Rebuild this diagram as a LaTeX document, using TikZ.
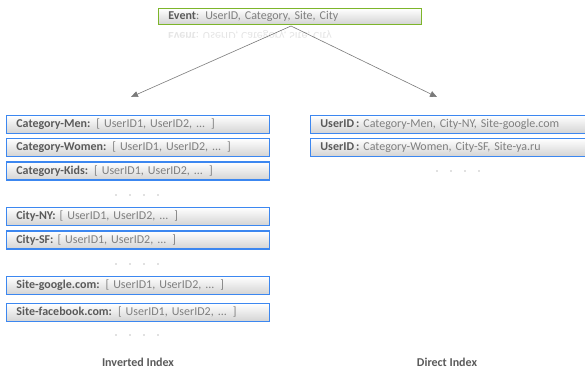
\documentclass[tikz,border=0pt]{standalone}
\usepackage{fontspec}
\setmainfont{Carlito}
\usetikzlibrary{arrows.meta}
\definecolor{boxblue}{HTML}{3C87F0}
\definecolor{evgreen}{HTML}{7DB52A}
\definecolor{keytext}{HTML}{5A5A5A}
\definecolor{valtext}{HTML}{7F7F7F}
\definecolor{arrowgray}{HTML}{7A7A7A}
\tikzset{
  entry/.style={draw=boxblue, line width=1.8pt, top color=white, bottom color=black!17,
    anchor=north west, minimum height=18pt, inner xsep=10pt, inner ysep=0pt,
    align=left, font=\fontsize{12}{14}\selectfont, text=valtext},
  leftentry/.style={entry, text width=243pt},
  rightentry/.style={entry, text width=256pt},
  event/.style={entry, draw=evgreen, text width=243pt, minimum height=16pt},
  link/.style={draw=arrowgray, line width=0.6pt, -{Triangle[length=7pt,width=6pt]}},
  dot/.style={fill=valtext, circle, inner sep=0pt, minimum size=1.4pt},
  caption/.style={font=\fontsize{12}{14}\selectfont\bfseries, text=keytext}
}
\newcommand{\keyname}[1]{\textcolor{keytext}{\textbf{#1}}}
\begin{document}
\begin{tikzpicture}[x=1pt,y=-1pt]
\useasboundingbox (0,0) rectangle (585,368);

% event record and its faded reflection
\node[event] (ev) at (157.5,7.5) {\keyname{Event}: UserID, Category, Site, City};
\begin{scope}
  \clip (157,26) rectangle (422,37);
  \node[yscale=-1, anchor=west, inner sep=0pt, font=\fontsize{12}{14}\selectfont, text=black!10]
    (evmirror) at (168,35.5) {\textbf{Event}: UserID, Category, Site, City};
\end{scope}

% arrows to the two indexes
\coordinate (src) at (291,26);
\coordinate (invtop) at (131,97);
\coordinate (dirtop) at (437,97);
\draw[link] (src) -- (invtop);
\draw[link] (src) -- (dirtop);

% inverted index
\node[leftentry] (cmen)   at (5.5,114.5) {\keyname{Category-Men:} [ UserID1, UserID2, ... ]};
\node[leftentry] (cwomen) at (5.5,137.5) {\keyname{Category-Women:} [ UserID1, UserID2, ... ]};
\node[leftentry] (ckids)  at (5.5,161)   {\keyname{Category-Kids:} [ UserID1, UserID2, ... ]};
\foreach \x [count=\i] in {116,130,144,158} \node[dot] (da\i) at (\x,195) {};
\node[leftentry] (cny)    at (5.5,206.5) {\keyname{City-NY:} [ UserID1, UserID2, ... ]};
\node[leftentry] (csf)    at (5.5,230)   {\keyname{City-SF:} [ UserID1, UserID2, ... ]};
\foreach \x [count=\i] in {116,130,144,158} \node[dot] (db\i) at (\x,264) {};
\node[leftentry] (sgoog)  at (5.5,275.5) {\keyname{Site-google.com:} [ UserID1, UserID2, ... ]};
\node[leftentry] (sfb)    at (5.5,302.5) {\keyname{Site-facebook.com:} [ UserID1, UserID2, ... ]};
\foreach \x [count=\i] in {116,130,144,158} \node[dot] (dc\i) at (\x,335) {};
\node[caption] (invcap) at (138,362) {Inverted Index};

% direct index
\begin{scope}
  \clip (0,0) rectangle (585,368);
  \node[rightentry] (u1) at (309.5,114.5) {\keyname{UserID\,:} Category-Men, City-NY, Site-google.com};
  \node[rightentry] (u2) at (309.5,137.5) {\keyname{UserID\,:} Category-Women, City-SF, Site-ya.ru};
\end{scope}
\foreach \x [count=\i] in {437,451,465,479} \node[dot] (dd\i) at (\x,171) {};
\node[caption] (dircap) at (447,362) {Direct Index};
\end{tikzpicture}
\end{document}
